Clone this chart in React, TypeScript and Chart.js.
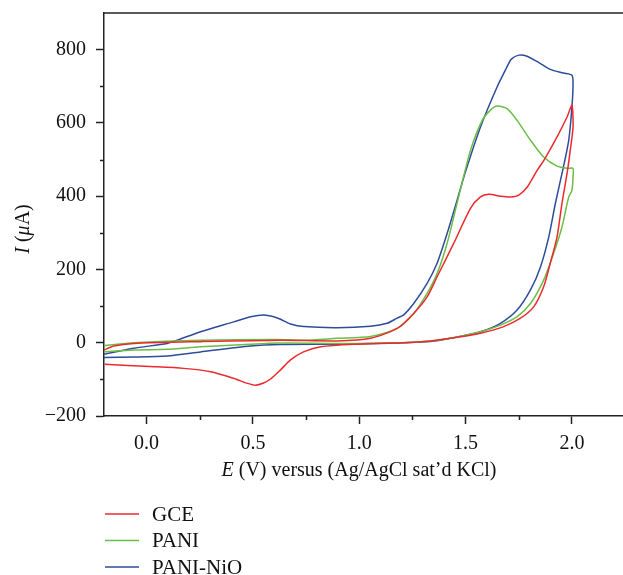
import React, { useEffect, useRef } from "react";
import { Chart, registerables } from "chart.js";

Chart.register(...registerables);

// ---- data ----
const seriesNames = ["GCE", "PANI", "PANI-NiO"];
const seriesColors = ["#ec2a2e", "#6cbd45", "#2e4c9c"];

const gceE = [-0.2, -0.154, -0.06, 0.254, 0.63, 0.896, 1.053, 1.178, 1.256, 1.319, 1.366, 1.444, 1.523, 1.57, 1.609, 1.664, 1.711, 1.75, 1.79, 1.837, 1.868, 1.93, 1.977, 2.0, 2.005, 1.992, 1.977, 1.953, 1.93, 1.898, 1.867, 1.82, 1.758, 1.679, 1.57, 1.429, 1.335, 1.208, 0.973, 0.818, 0.738, 0.677, 0.63, 0.583, 0.55, 0.512, 0.475, 0.409, 0.301, 0.174, 0.019, -0.197];
const gceI = [-20, -9, -2, 3, 7, 5, 12, 39, 80, 125, 180, 271, 367, 398, 405, 400, 398, 403, 425, 471, 498, 562, 616, 648, 589, 525, 462, 380, 289, 217, 153, 98, 67, 44, 26, 12, 5, 0, -4, -11, -25, -47, -74, -99, -110, -116, -111, -97, -79, -70, -65, -59];

const paniE = [-0.2, -0.06, 0.254, 0.614, 0.739, 0.896, 1.053, 1.178, 1.256, 1.319, 1.366, 1.413, 1.46, 1.523, 1.578, 1.617, 1.648, 1.695, 1.742, 1.805, 1.867, 1.93, 1.977, 2.005, 2.005, 2.0, 1.985, 1.953, 1.914, 1.867, 1.805, 1.742, 1.664, 1.57, 1.429, 1.335, 1.194, 0.912, 0.63, 0.489, 0.254, 0.097, -0.06, -0.2];
const paniI = [-8, 0, 7, 9, 7, 12, 17, 39, 80, 135, 189, 271, 381, 525, 607, 635, 646, 639, 607, 553, 507, 482, 476, 476, 453, 416, 398, 316, 244, 171, 107, 71, 48, 30, 12, 5, 0, -2, -1, -4, -11, -18, -20, -25];

const nioE = [-0.2, -0.06, 0.097, 0.144, 0.254, 0.41, 0.489, 0.551, 0.598, 0.63, 0.677, 0.739, 0.896, 1.053, 1.131, 1.178, 1.209, 1.256, 1.319, 1.366, 1.413, 1.46, 1.499, 1.57, 1.648, 1.687, 1.698, 1.715, 1.75, 1.789, 1.852, 1.898, 1.96, 2.0, 2.005, 2.0, 1.985, 1.96, 1.922, 1.891, 1.852, 1.805, 1.742, 1.664, 1.57, 1.429, 1.335, 1.209, 0.896, 0.63, 0.489, 0.254, 0.097, -0.06, -0.2];
const nioI = [-31, -15, -2, 7, 30, 57, 71, 76, 71, 64, 51, 44, 41, 45, 53, 67, 76, 107, 162, 217, 298, 389, 466, 589, 698, 744, 757, 774, 785, 782, 762, 746, 736, 730, 707, 644, 553, 480, 380, 289, 207, 144, 89, 53, 30, 12, 3, 0, -4, -5, -9, -25, -36, -39, -40];

const xTicks = [0, 0.5, 1.0, 1.5, 2.0];
const xMinorTicks = [0.25, 0.75, 1.25, 1.75];
const yTicks = [-200, 0, 200, 400, 600, 800];
const yMinorTicks = [-100, 100, 300, 500, 700];
const xRange = [-0.2, 2.24];
const yRange = [-200, 900];

const FONT = '"Liberation Serif", "Times New Roman", serif';
const AXIS = "#222";
const FS = 20;

const toPoints = (xs: number[], ys: number[]) => xs.map((x, i) => ({ x, y: ys[i] }));

const decorPlugin = {
  id: "decor",
  afterDraw(chart: any) {
    const ctx = chart.ctx;
    const { left, right, top, bottom } = chart.chartArea;
    const xs = chart.scales.x;
    const ys = chart.scales.y;
    ctx.save();
    ctx.strokeStyle = AXIS;
    ctx.lineWidth = 1.5;
    ctx.beginPath();
    ctx.moveTo(left, top);
    ctx.lineTo(right, top);
    ctx.stroke();
    ctx.beginPath();
    for (const v of xMinorTicks) {
      const px = Math.round(xs.getPixelForValue(v)) + 0.5;
      ctx.moveTo(px, bottom);
      ctx.lineTo(px, bottom + 4);
    }
    for (const v of yMinorTicks) {
      const py = Math.round(ys.getPixelForValue(v)) + 0.5;
      ctx.moveTo(left, py);
      ctx.lineTo(left - 4, py);
    }
    ctx.stroke();

    // axis titles with italic symbols
    const drawParts = (parts: { t: string; it: boolean }[], cx: number, by: number) => {
      let total = 0;
      const widths = parts.map((p) => {
        ctx.font = `${p.it ? "italic " : ""}${FS}px ${FONT}`;
        const w = ctx.measureText(p.t).width;
        total += w;
        return w;
      });
      let x = cx - total / 2;
      ctx.textBaseline = "alphabetic";
      ctx.textAlign = "left";
      ctx.fillStyle = "#111";
      parts.forEach((p, i) => {
        ctx.font = `${p.it ? "italic " : ""}${FS}px ${FONT}`;
        ctx.fillText(p.t, x, by);
        x += widths[i];
      });
    };
    drawParts(
      [
        { t: "E", it: true },
        { t: " (V) versus (Ag/AgCl sat\u2019d KCl)", it: false },
      ],
      359,
      476
    );
    ctx.save();
    ctx.translate(29, 229);
    ctx.rotate(-Math.PI / 2);
    drawParts(
      [
        { t: "I", it: true },
        { t: " (", it: false },
        { t: "\u03bc", it: true },
        { t: "A)", it: false },
      ],
      0,
      0
    );
    ctx.restore();

    // legend
    const ly = [514, 540.5, 567];
    chart.data.datasets.forEach((ds: any, i: number) => {
      ctx.strokeStyle = ds.borderColor;
      ctx.lineWidth = 1.5;
      ctx.beginPath();
      ctx.moveTo(105, ly[i]);
      ctx.lineTo(139, ly[i]);
      ctx.stroke();
      ctx.fillStyle = "#111";
      ctx.font = `21px ${FONT}`;
      ctx.textAlign = "left";
      ctx.textBaseline = "middle";
      ctx.fillText(ds.label, 152, ly[i] + 1);
    });
    ctx.restore();
  },
};

export default function App() {
  const ref = useRef<HTMLCanvasElement | null>(null);
  useEffect(() => {
    if (!ref.current) return;
    const series = [
      toPoints(gceE, gceI),
      toPoints(paniE, paniI),
      toPoints(nioE, nioI),
    ];
    const chart = new Chart(ref.current, {
      type: "scatter",
      data: {
        datasets: series.map((pts, i) => ({
          label: seriesNames[i],
          data: pts,
          showLine: true,
          borderColor: seriesColors[i],
          backgroundColor: seriesColors[i],
          borderWidth: 1.5,
          pointRadius: 0,
          tension: 0.25,
        })),
      },
      options: {
        animation: false,
        responsive: false,
        devicePixelRatio: 1,
        layout: { padding: { top: 13, right: 0, left: 0, bottom: 0 } },
        plugins: { legend: { display: false }, tooltip: { enabled: false } },
        scales: {
          x: {
            type: "linear",
            min: xRange[0],
            max: xRange[1],
            afterBuildTicks: (s: any) => {
              s.ticks = xTicks.map((v) => ({ value: v }));
            },
            afterFit: (s: any) => {
              s.height = 159;
              s.paddingLeft = 0;
              s.paddingRight = 0;
            },
            ticks: {
              autoSkip: false,
              maxRotation: 0,
              padding: 8,
              color: "#111",
              font: { family: FONT, size: FS },
              callback: (v: any) => Number(v).toFixed(1),
            },
            grid: {
              display: true,
              drawOnChartArea: false,
              drawTicks: true,
              tickLength: 8,
              tickWidth: 1.5,
              tickColor: AXIS,
            },
            border: { display: true, color: AXIS, width: 1.5 },
          },
          y: {
            type: "linear",
            min: yRange[0],
            max: yRange[1],
            afterBuildTicks: (s: any) => {
              s.ticks = yTicks.map((v) => ({ value: v }));
            },
            afterFit: (s: any) => {
              s.width = 104;
              s.paddingTop = 0;
              s.paddingBottom = 0;
            },
            ticks: {
              autoSkip: false,
              padding: 10,
              color: "#111",
              font: { family: FONT, size: FS },
              callback: (v: any) => (Number(v) < 0 ? "\u2212" + Math.abs(Number(v)) : String(v)),
            },
            grid: {
              display: true,
              drawOnChartArea: false,
              drawTicks: true,
              tickLength: 8,
              tickWidth: 1.5,
              tickColor: AXIS,
            },
            border: { display: true, color: AXIS, width: 1.5 },
          },
        },
      },
      plugins: [decorPlugin],
    });
    return () => chart.destroy();
  }, []);
  return (
    <div style={{ position: "fixed", left: 0, top: 0, width: 623, height: 575, background: "#fff" }}>
      <canvas ref={ref} width={623} height={575} style={{ display: "block" }} />
    </div>
  );
}
